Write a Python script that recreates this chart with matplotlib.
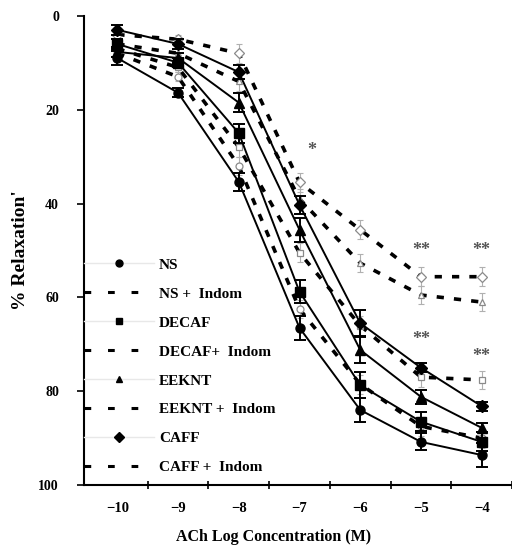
import matplotlib.pyplot as plt
from matplotlib.lines import Line2D

plt.rcParams['font.family'] = ['Liberation Serif', 'DejaVu Serif']
plt.rcParams['font.weight'] = 'bold'

## ACh concentration (log M)
log_conc = [-10, -9, -8, -7, -6, -5, -4]

## mean % relaxation
ns = [9, 16.4, 35.4, 66.5, 84, 90.8, 93.6]
decaf = [6, 10, 25, 58.8, 78.7, 86.5, 90.8]
eeknt = [7.7, 9, 18.5, 45.6, 71.2, 81.2, 87.8]
caff = [3, 6, 12, 40.3, 65.5, 75, 83.2]

ns_indom = [8, 13, 32, 62.5, 78.5, 87.5, 90]
decaf_indom = [7, 11, 28, 50.5, 66, 77, 77.6]
eeknt_indom = [6, 8, 14, 39, 52.7, 59.5, 61]
caff_indom = [4, 5, 8, 35.5, 45.6, 55.6, 55.6]

## SEM
ns_err = [1.5, 1, 2, 2.5, 2.6, 1.8, 2.5]
decaf_err = [1, 1, 2, 2.5, 2.8, 2, 2]
eeknt_err = [1, 1, 2, 2.5, 2.8, 1.5, 1]
caff_err = [1, 1, 1.5, 2, 2.8, 1, 1]
indom_err = [1, 1, 2, 2, 2, 2, 2]

labels = ['NS', 'NS +  Indom', 'DECAF', 'DECAF+  Indom',
          'EEKNT', 'EEKNT +  Indom', 'CAFF', 'CAFF +  Indom']
markers = ['o', 's', '^', 'D']

fig = plt.figure(figsize=(5.12, 5.45), dpi=100)
ax = fig.add_axes([0.164, 0.110, 0.836, 0.861])

solid = [ns, decaf, eeknt, caff]
solid_err = [ns_err, decaf_err, eeknt_err, caff_err]
dashed = [ns_indom, decaf_indom, eeknt_indom, caff_indom]
msizes = [6.5, 6.5, 7, 6]

for vals, err, m, ms in zip(solid, solid_err, markers, msizes):
    ax.errorbar(log_conc, vals, yerr=err, color='black', lw=1.4,
                marker=m, ms=ms, capsize=4, elinewidth=1.4, capthick=1.4,
                zorder=3)

for vals, m in zip(dashed, markers):
    ax.errorbar(log_conc, vals, yerr=indom_err, fmt='none', ecolor='#b0b0b0',
                elinewidth=0.8, capsize=2.5, capthick=0.8, zorder=2)
    ax.plot(log_conc, vals, color='black', lw=2.6, dashes=(2.0, 2.8),
            zorder=2)
    ax.plot(log_conc, vals, ls='none', marker=m, ms=5, mfc='white',
            mec='#8a8a8a', mew=0.9, zorder=2)

# significance marks
ax.text(-6.8, 28.8, '*', ha='center', va='center', fontsize=13, color='#555555')
for x, y in [(-5, 50), (-4, 50), (-5, 69), (-4, 72.5)]:
    ax.text(x, y, '**', ha='center', va='center', fontsize=13,
            color='#555555')

ax.set_xlim(-10.55, -3.5)
ax.set_ylim(100, 0)
ax.set_yticks([0, 20, 40, 60, 80, 100])
ax.set_xticks(log_conc)
ax.set_xticks([-9.5, -8.5, -7.5, -6.5, -5.5, -4.5, -3.5], minor=True)
ax.tick_params(axis='x', which='major', length=0, pad=12, labelsize=10.5)
ax.tick_params(axis='x', which='minor', direction='inout', length=6,
               width=1.2)
ax.tick_params(axis='y', direction='out', length=5, width=1.2, pad=13,
               labelsize=10)
for lab in ax.get_xticklabels() + ax.get_yticklabels():
    lab.set_fontweight('bold')

for side in ['top', 'right']:
    ax.spines[side].set_visible(False)
for side in ['left', 'bottom']:
    ax.spines[side].set_linewidth(1.5)

ax.set_xlabel('ACh Log Concentration (M)', fontsize=11.5, fontweight='bold')
ax.xaxis.set_label_coords(0.444, -0.094)
ax.set_ylabel("% Relaxation'", fontsize=14, fontweight='bold')
ax.yaxis.set_label_coords(-0.128, 0.5)

handles = []
for m in markers:
    handles.append(Line2D([], [], color='#e8e8e8', lw=1, marker=m,
                          mfc='black', mec='black', ms=5))
    handles.append(Line2D([], [], color='black', lw=2.2, dashes=(2.2, 5.5)))
leg = ax.legend(handles, labels, loc='upper left', bbox_to_anchor=(0, 0.484),
                frameon=False, fontsize=11, handlelength=4.6,
                handletextpad=0.3, labelspacing=1.0, borderpad=0,
                borderaxespad=0)
for t in leg.get_texts():
    t.set_fontweight('bold')

fig.savefig('out.png', dpi=100)
